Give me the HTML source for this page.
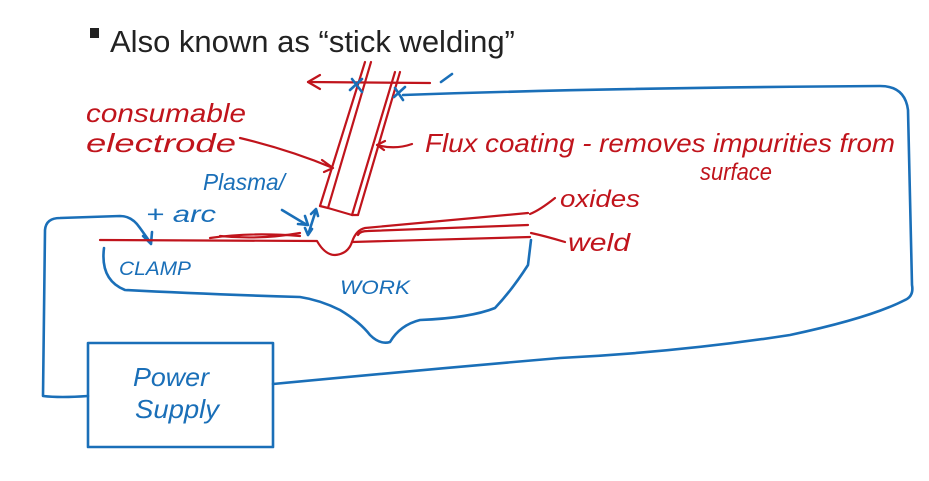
<!DOCTYPE html>
<html><head><meta charset="utf-8"><style>
html,body{margin:0;padding:0;background:#fff;width:929px;height:481px;overflow:hidden}
svg{display:block}
.r{fill:none;stroke:#c0141c;stroke-width:2.2;stroke-linecap:round;stroke-linejoin:round}
.b{fill:none;stroke:#1a6fb8;stroke-width:2.6;stroke-linecap:round;stroke-linejoin:round}
.rt{fill:#c0141c;font-family:"Liberation Sans",sans-serif;font-style:italic}
.bt{fill:#1a6fb8;font-family:"Liberation Sans",sans-serif;font-style:italic}
</style></head><body>
<svg width="929" height="481" viewBox="0 0 929 481">
<rect x="90" y="28" width="9" height="10" fill="#222"/>
<text x="110" y="52" font-family="Liberation Sans,sans-serif" font-size="31" fill="#222">Also known as “stick welding”</text>

<!-- blue circuit -->
<path class="b" d="M403 95 Q600 88 880 86 Q905 86 908 110 L912 285 Q914 296 905 300 Q870 318 790 335 Q680 352 560 358 Q420 370 273 384"/>
<rect class="b" x="88" y="343" width="185" height="104"/>
<path class="b" d="M88 396 Q60 398 43 396 L45 230 Q46 218 60 218 L120 216 Q132 216 140 228 L150 242"/>
<path class="b" d="M143 236 L151 244 L152 232"/>
<!-- work outline -->
<path class="b" d="M104 248 Q100 280 125 290 Q200 294 300 297 Q320 300 340 310 Q360 322 370 335 Q380 345 390 342 Q400 325 420 320 Q470 318 495 308 Q512 290 528 265 L531 240"/>
<!-- plasma arrows -->
<path class="b" d="M282 210 L307 225 M298 224 L308 225 L305 216"/>
<path class="b" d="M316 210 L308 235 M311 214 L316 209 L318 216 M305 228 L308 235 L312 229"/>
<path class="b" d="M441 82 L452 74"/>
<!-- red work/weld -->
<path class="r" d="M100 240 L317 241 Q325 255 335 255 Q348 254 352 242 L530 237"/>
<path class="r" d="M352 242 Q356 230 365 228 L528 213"/>
<path class="r" d="M358 235 Q360 231 368 231 L528 225"/>
<path class="r" d="M210 238 Q250 232 300 236 M220 236 Q260 240 300 233"/>
<!-- electrode -->
<path class="r" d="M365 62 L320 206"/>
<path class="r" d="M371 62 L328 208"/>
<path class="r" d="M320 206 L328 208 L352 215"/>
<path class="r" d="M395 72 L352 215"/>
<path class="r" d="M400 72 L358 215"/>
<path class="r" d="M352 215 L358 215"/>
<path class="r" d="M308 82 L430 83"/>
<path class="r" d="M308 82 L320 75 M308 82 L320 89"/>
<path class="b" d="M352 79 L362 92 M362 79 L350 90 M395 88 L403 100 M405 87 L394 97"/>
<!-- red leaders -->
<path class="r" d="M240 138 Q290 150 333 168 M322 160 L333 168 L324 172"/>
<path class="r" d="M412 144 Q395 150 377 145 M385 141 L377 145 L384 150"/>
<path class="r" d="M555 198 Q540 210 530 214"/>
<path class="r" d="M565 242 Q545 236 531 233"/>

<text class="rt" x="86" y="122" font-size="26" textLength="160" lengthAdjust="spacingAndGlyphs">consumable</text>
<text class="rt" x="86" y="152" font-size="26" textLength="150" lengthAdjust="spacingAndGlyphs">electrode</text>
<text class="rt" x="425" y="152" font-size="26" textLength="470" lengthAdjust="spacingAndGlyphs">Flux coating - removes impurities from</text>
<text class="rt" x="700" y="180" font-size="24" textLength="72" lengthAdjust="spacingAndGlyphs">surface</text>
<text class="rt" x="560" y="207" font-size="24" textLength="80" lengthAdjust="spacingAndGlyphs">oxides</text>
<text class="rt" x="568" y="251" font-size="25" textLength="62" lengthAdjust="spacingAndGlyphs">weld</text>
<text class="bt" x="203" y="190" font-size="23" textLength="82" lengthAdjust="spacingAndGlyphs">Plasma/</text>
<text class="bt" x="146" y="222" font-size="23" textLength="70" lengthAdjust="spacingAndGlyphs">+  arc</text>
<text class="bt" x="119" y="275" font-size="19" textLength="72" lengthAdjust="spacingAndGlyphs">CLAMP</text>
<text class="bt" x="340" y="294" font-size="19" textLength="70" lengthAdjust="spacingAndGlyphs">WORK</text>
<text class="bt" x="133" y="386" font-size="26" textLength="76" lengthAdjust="spacingAndGlyphs">Power</text>
<text class="bt" x="135" y="418" font-size="26" textLength="84" lengthAdjust="spacingAndGlyphs">Supply</text>
</svg>
</body></html>
